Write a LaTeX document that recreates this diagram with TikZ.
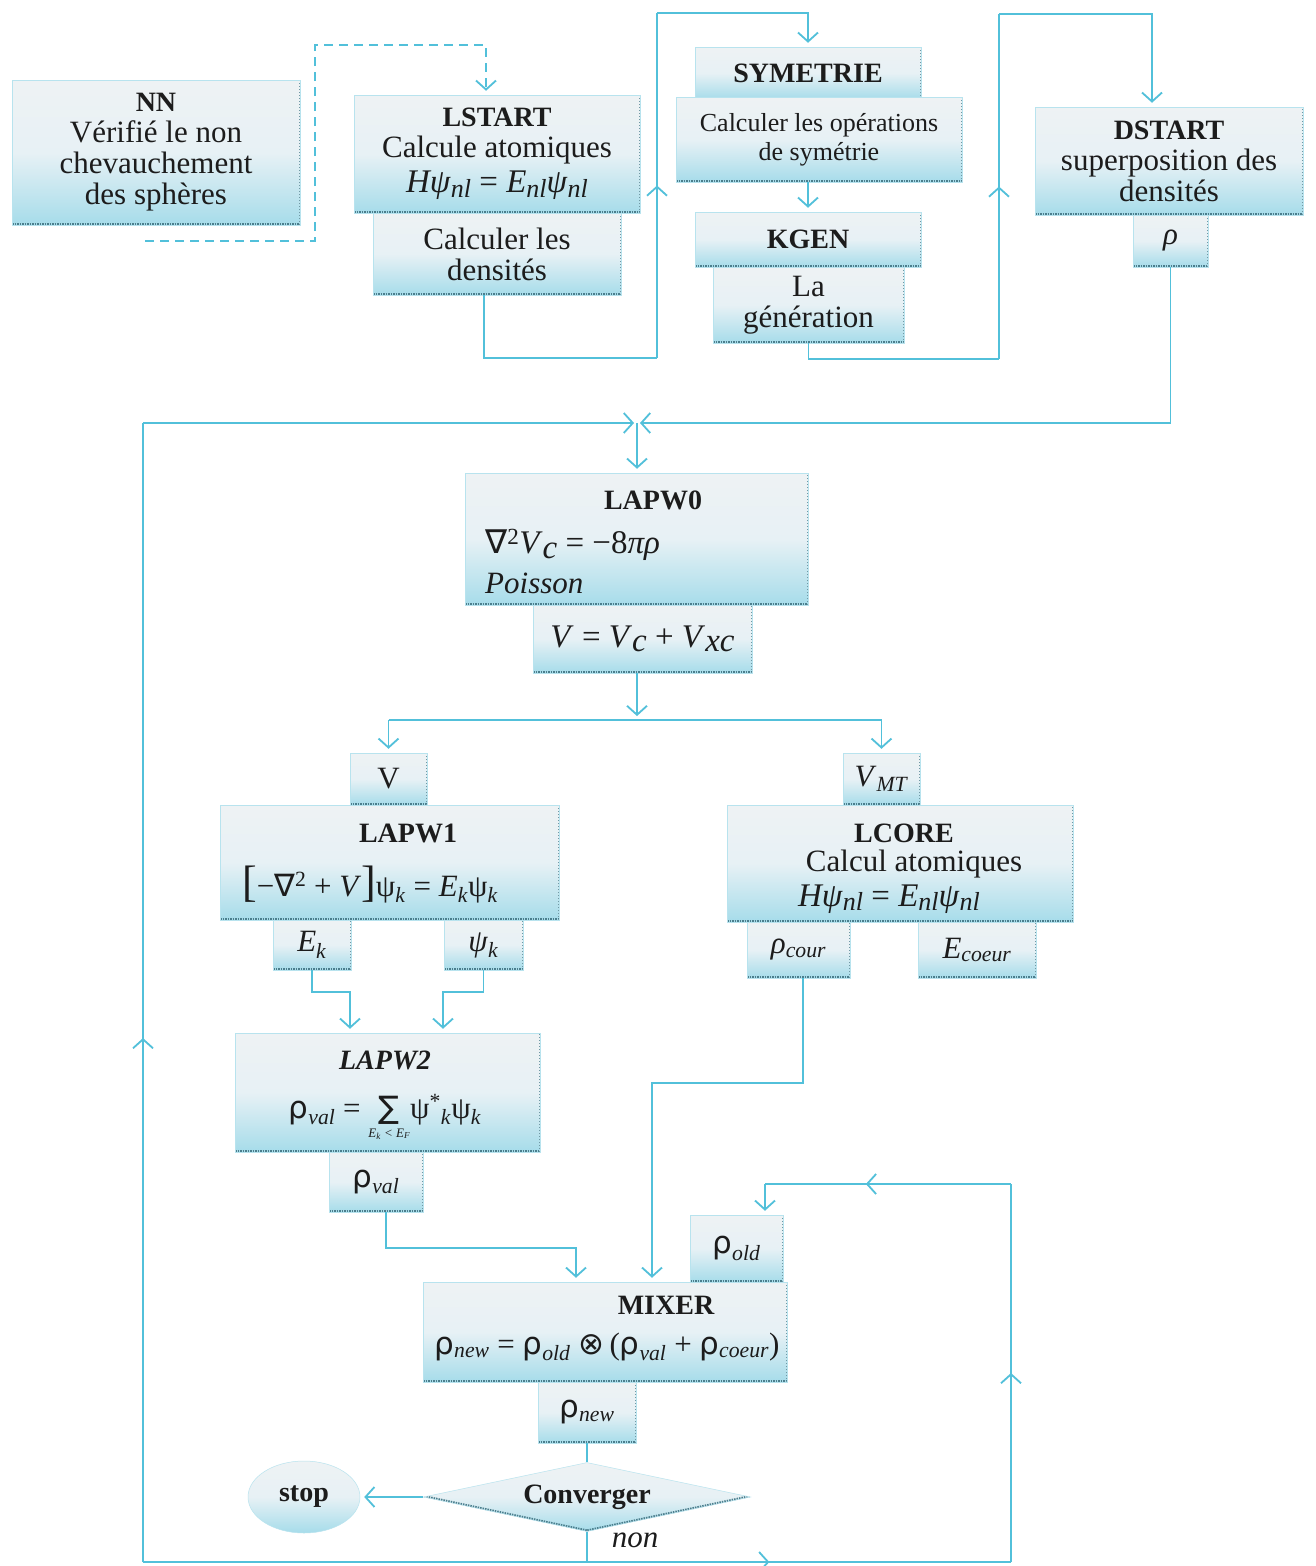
\documentclass[tikz,border=0pt]{standalone}
\usepackage{fontspec}
\setmainfont{Liberation Serif}
\newfontfamily\symf{DejaVu Sans}
\usetikzlibrary{arrows.meta,shapes.geometric,decorations.markings}
\definecolor{lineblue}{HTML}{52C0DA}
\definecolor{boxtop}{HTML}{EEF2F4}
\definecolor{boxmid}{HTML}{E7F1F5}
\definecolor{boxbot}{HTML}{A6DCEA}
\definecolor{edgedark}{HTML}{4B7E8D}
\definecolor{txt}{HTML}{1C1C1C}
\newcommand\fbody{\fontsize{31}{31}\selectfont}
\newcommand\fsmall{\fontsize{26}{29}\selectfont}
\newcommand\feq{\fontsize{33}{33}\selectfont}
\newcommand\ttl[1]{{\fontsize{28}{31}\selectfont\bfseries #1}}
\newcommand\sbi[1]{\textsubscript{\textit{#1}}}
\newcommand\nls{\raisebox{-0.3ex}{\fontsize{26}{26}\selectfont\itshape nl}}
\tikzset{
  >={Straight Barb[length=9pt,width=20pt]},
  shadedfill/.style={top color=boxtop, bottom color=boxbot, middle color=boxmid,
    draw=boxbot!80!white, line width=0.5pt},
  box/.style={rectangle, inner sep=2pt, align=center, text=txt, font=\fbody, shadedfill,
    path picture={
      \draw[edgedark, line width=5pt, dash pattern=on 1.5pt off 1pt]
        (path picture bounding box.south west) -- (path picture bounding box.south east);
      \draw[edgedark!80, line width=3pt, dash pattern=on 1.5pt off 1.5pt]
        (path picture bounding box.south east) -- (path picture bounding box.north east);}},
  txtnode/.style={inner sep=0pt, text=txt, font=\fbody},
  conn/.style={draw=lineblue, color=lineblue, line width=1.8pt},
  arr/.style={conn, ->, shorten >=4pt},
  dconn/.style={conn, dash pattern=on 9pt off 6pt},
  midarr/.style={postaction={decorate}, decoration={markings, mark=at position #1 with {\arrow{>}}}},
  midarr/.default=0.5,
  decision/.style={diamond, aspect=4.7, inner sep=0pt, text=txt, font=\fbody, shadedfill,
    path picture={
      \draw[edgedark, line width=4pt, dash pattern=on 1.5pt off 1pt]
        (path picture bounding box.west) -- (path picture bounding box.south) -- (path picture bounding box.east);}},
  terminal/.style={ellipse, inner sep=0pt, text=txt, font=\fbody, shadedfill}
}
\begin{document}
\begin{tikzpicture}[x=1pt,y=-1pt]
\fill[white] (0,0) rectangle (1315,1566);
\useasboundingbox (0,0) rectangle (1315,1566);

% ---- top row
\node[box, minimum width=288, minimum height=145] (nn) at (156,152.5)
  {\ttl{NN}\\ Vérifié le non\\ chevauchement\\ des sphères};
\node[box, minimum width=286, minimum height=118] (lstart) at (497,154)
  {\ttl{LSTART}\\ Calcule atomiques\\[4pt] {\feq\textit{Hψ}\nls{} = \textit{E}\nls\textit{ψ}\nls}};
\node[box, minimum width=248, minimum height=82] (dens) at (497,254)
  {Calculer les\\ densités};
\node[box, minimum width=226, minimum height=52] (sym) at (808,73) {\ttl{SYMETRIE}};
\node[box, font=\fsmall, minimum width=286, minimum height=85] (symc) at (819,139.5)
  {Calculer les opérations\\ de symétrie};
\node[box, minimum width=226, minimum height=55] (kgen) at (808,239.5) {\ttl{KGEN}};
\node[box, minimum width=191, minimum height=76] (gen) at (808.5,305) {La\\ génération};
\node[box, minimum width=268, minimum height=108] (dstart) at (1169,161)
  {\ttl{DSTART}\\ superposition des\\ densités};
\node[box, minimum width=75, minimum height=52] (rho) at (1170.5,241) {\textit{ρ}};

% ---- LAPW0
\node[box, minimum width=343, minimum height=132] (lapw0) at (636.5,539) {};
\node[txtnode] (l0t) at (653,500) {\ttl{LAPW0}};
\node[txtnode, anchor=west] (l0eq) at (485,545)
  {\feq{\symf ∇}\textsuperscript{2}\textit{V}\raisebox{-0.35ex}{\itshape c} = −8\textit{πρ}};
\node[txtnode, anchor=west] (l0p) at (485,583) {\textit{Poisson}};
\node[box, minimum width=219, minimum height=68] (veq) at (642.5,639)
  {\feq\textit{V} = \textit{V}\raisebox{-0.3ex}{\itshape c} + \textit{V}\raisebox{-0.3ex}{\itshape xc}};

% ---- LAPW1
\node[box, minimum width=77, minimum height=52] (vbox) at (388.5,779) {V};
\node[box, minimum width=339, minimum height=115] (lapw1) at (389.5,862.5) {};
\node[txtnode] (l1t) at (408,833) {\ttl{LAPW1}};
\node[txtnode, anchor=base west] (l1eq) at (242,896)
  {{\fontsize{44}{44}\selectfont[}−{\symf ∇}\textsuperscript{2} + \textit{V}{\fontsize{44}{44}\selectfont]}ψ\sbi{k} = \textit{E}\sbi{k}ψ\sbi{k}};
\node[box, minimum width=78, minimum height=50] (ek) at (312,945) {\textit{E}\sbi{k}};
\node[box, minimum width=79, minimum height=50] (psik) at (483.5,945) {\textit{ψ}\sbi{k}};

% ---- LCORE
\node[box, minimum width=77, minimum height=52] (vmt) at (881.5,779) {\textit{V}\sbi{MT}};
\node[box, minimum width=346, minimum height=117] (lcore) at (900,863.5) {};
\node[txtnode] (lct) at (904,833) {\ttl{LCORE}};
\node[txtnode] (lcc) at (914,864) {Calcul atomiques};
\node[txtnode] (lceq) at (889,899) {\feq\textit{Hψ}\nls{} = \textit{E}\nls\textit{ψ}\nls};
\node[box, minimum width=103, minimum height=56] (rcour) at (798.5,950) {\textit{ρ}\sbi{cour}};
\node[box, minimum width=118, minimum height=56] (ecoeur) at (977,950) {\textit{E}\sbi{coeur}};

% ---- LAPW2
\node[box, minimum width=305, minimum height=119] (lapw2) at (387.5,1092.5) {};
\node[txtnode] (l2t) at (385,1060) {\ttl{\itshape LAPW2}};
\node[txtnode, anchor=base] (l2eq) at (385,1118)
  {{\symf ρ}\sbi{val} = \begin{tabular}[t]{@{}c@{}}{\symf ∑}\\[-12pt]{\fontsize{13}{13}\selectfont\itshape E\textsubscript{k} < E\textsubscript{F}}\end{tabular}ψ\textsuperscript{*}\sbi{k}ψ\sbi{k}};
\node[box, minimum width=94, minimum height=60] (rval) at (376,1182) {{\symf ρ}\sbi{val}};

% ---- MIXER
\node[box, minimum width=93, minimum height=67] (rold) at (736.5,1248.5) {{\symf ρ}\sbi{old}};
\node[box, minimum width=364, minimum height=100] (mixer) at (605,1332) {};
\node[txtnode] (mxt) at (666,1305) {\ttl{MIXER}};
\node[txtnode, anchor=base] (mxeq) at (607,1354)
  {{\symf ρ}\sbi{new} = {\symf ρ}\sbi{old} {\symf ⊗}\,({\symf ρ}\sbi{val} + {\symf ρ}\sbi{coeur})};
\node[box, minimum width=98, minimum height=61] (rnew) at (587,1412.5) {{\symf ρ}\sbi{new}};

% ---- decision
\node[decision, minimum width=327, minimum height=69] (conv) at (587,1497) {\ttl{Converger}};
\node[terminal, minimum width=112, minimum height=72] (stop) at (304,1497) {\ttl{stop}};
\node[txtnode] (non) at (635,1540) {\textit{non}};

% ---- connectors
\coordinate (d0) at (145,241);
\coordinate (d1) at (315,241);
\coordinate (d2) at (315,45);
\draw[dconn, ->, shorten >=4pt] (d0) -- (d1) -- (d2) -| ([xshift=-11pt]lstart.north);

\coordinate (c1) at (657,358);
\coordinate (c2) at (657,13);
\draw[conn] ([xshift=-13pt]dens.south) |- (c1);
\draw[conn, midarr] (c1) -- (c2);
\draw[arr] (c2) -| (sym.north);

\draw[arr] (symc.south -| kgen.north) -- (kgen.north);

\coordinate (c3) at (999,359);
\coordinate (c4) at (999,14);
\draw[conn] (gen.south) |- (c3);
\draw[conn, midarr] (c3) -- (c4);
\draw[arr] (c4) -| ([xshift=-17pt]dstart.north);

\coordinate (j0) at (637,423);
\coordinate (jl) at (143,423);
\draw[conn, ->, shorten >=3pt] (rho.south) |- (j0);
\draw[conn, ->, shorten >=3pt] (jl) -- (j0);
\draw[arr] (j0) -- (j0 |- lapw0.north);

\coordinate (sp) at (637,720);
\coordinate (spl) at (388.5,720);
\coordinate (spr) at (881.5,720);
\draw[arr] (veq.south -| sp) -- (sp);
\draw[conn] (spl) -- (spr);
\draw[arr] (spl) -- (vbox.north);
\draw[arr] (spr) -- (vmt.north);

\coordinate (e1) at (350,992);
\coordinate (e2) at (443,992);
\draw[arr] (ek.south) |- (e1) -- (e1 |- lapw2.north);
\draw[arr] (psik.south) |- (e2) -- (e2 |- lapw2.north);

\coordinate (m1) at (576,1248);
\coordinate (m2) at (652,1083);
\draw[arr] ([xshift=10pt]rval.south) |- (m1) -- (m1 |- mixer.north);
\draw[arr] ([xshift=4.5pt]rcour.south) |- (m2) -- (m2 |- mixer.north);

\draw[conn] (rnew.south) -- (conv.north);
\draw[arr] (conv.west) -- (stop.east);

\coordinate (bl) at (143,1562);
\coordinate (br) at (1011,1562);
\coordinate (tr) at (1011,1184);
\coordinate (tl) at (765,1184);
\coordinate (b0) at (conv.south |- bl);
\draw[conn] (conv.south) -- (b0);
\draw[conn] (b0) -- (bl);
\draw[conn, midarr=0.46] (bl) -- (jl);
\draw[conn, midarr=0.43] (b0) -- (br);
\draw[conn, midarr] (br) -- (tr);
\draw[conn, midarr=0.59] (tr) -- (tl);
\draw[arr] (tl) -- (tl |- rold.north);
\end{tikzpicture}
\end{document}
